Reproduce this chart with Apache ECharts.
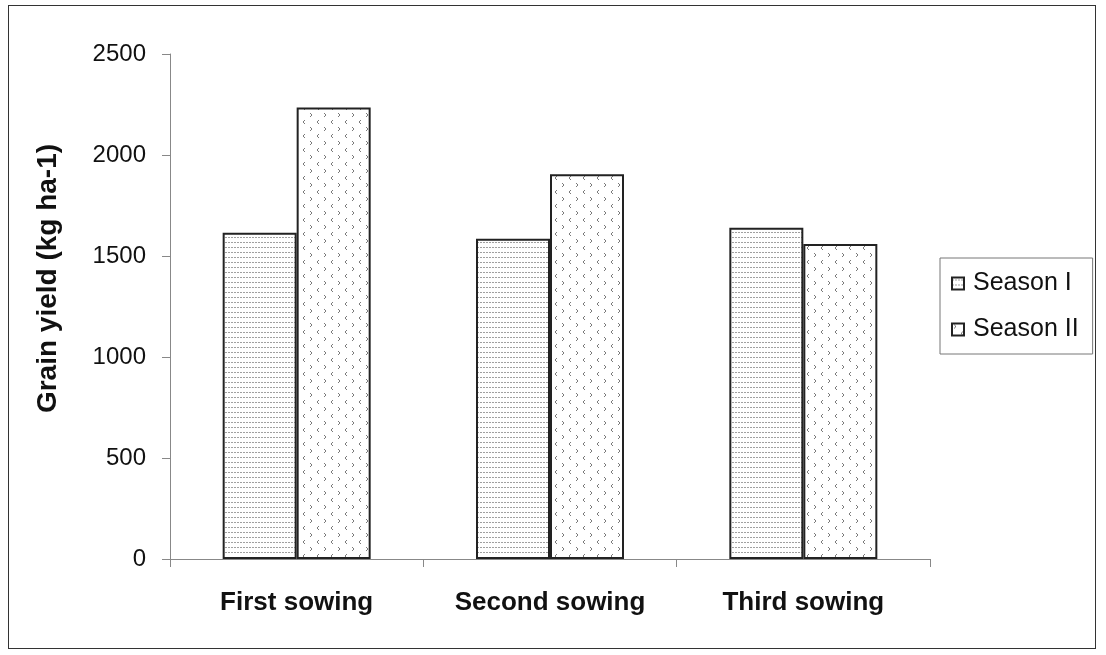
<!DOCTYPE html>
<html>
<head>
<meta charset="utf-8">
<script src="https://cdn.jsdelivr.net/npm/echarts@6/dist/echarts.min.js"></script>
<style>
  html, body { margin: 0; padding: 0; background: #fff; }
  #frame { position: absolute; left: 8px; top: 5px; width: 1088px; height: 644px; border: 1.5px solid #333; box-sizing: border-box; }
  #chart { width: 1106px; height: 655px; }
</style>
</head>
<body>
<div id="frame"></div>
<div id="chart"></div>
<script>
const categories = ['First sowing', 'Second sowing', 'Third sowing']
const seasonI = [1615, 1585, 1640]
const seasonII = [2235, 1905, 1560]
const legendNames = ['Season I', 'Season II']
const yTicks = [0, 500, 1000, 1500, 2000, 2500]

// horizontal dotted lines (Season I)
function linePattern () {
  const c = document.createElement('canvas')
  c.width = 6
  c.height = 5
  const ctx = c.getContext('2d')
  ctx.fillStyle = '#fff'
  ctx.fillRect(0, 0, 6, 5)
  ctx.fillStyle = '#a0a0a0'
  ctx.fillRect(0, 2, 2, 1)
  ctx.fillRect(3, 2, 2, 1)
  return c
}

// small chevrons (Season II)
function chevronPattern () {
  const c = document.createElement('canvas')
  c.width = 14
  c.height = 14
  const ctx = c.getContext('2d')
  ctx.fillStyle = '#fff'
  ctx.fillRect(0, 0, 14, 14)
  ctx.strokeStyle = '#7a7a7a'
  ctx.lineWidth = 1
  ctx.beginPath()
  ctx.moveTo(2, 1); ctx.lineTo(4, 3); ctx.lineTo(2, 5)
  ctx.moveTo(11, 8); ctx.lineTo(9, 10); ctx.lineTo(11, 12)
  ctx.stroke()
  return c
}

const chart = echarts.init(document.getElementById('chart'))
chart.setOption({
  backgroundColor: 'transparent',
  animation: false,
  textStyle: { fontFamily: 'Liberation Sans, Arial, sans-serif' },
  grid: { left: 170, right: 176, top: 54, bottom: 96, containLabel: false },
  legend: {
    orient: 'vertical',
    left: 940,
    top: 258,
    padding: [13, 14, 12, 11],
    itemGap: 21,
    itemWidth: 12,
    itemHeight: 12,
    icon: 'rect',
    borderColor: '#777',
    borderWidth: 1,
    borderRadius: 0,
    data: legendNames,
    textStyle: { fontSize: 25, color: '#111', padding: [0, 0, 0, 4] }
  },
  xAxis: {
    type: 'category',
    data: categories,
    axisLine: { lineStyle: { color: '#888', width: 1 } },
    axisTick: { show: true, length: 8, lineStyle: { color: '#888' } },
    axisLabel: { fontSize: 26, fontWeight: 'bold', color: '#111', margin: 31 }
  },
  yAxis: {
    type: 'value',
    min: yTicks[0],
    max: yTicks[yTicks.length - 1],
    interval: 500,
    name: 'Grain yield (kg ha-1)',
    nameLocation: 'middle',
    nameGap: 108,
    nameTextStyle: { fontSize: 28, fontWeight: 'bold', color: '#111', padding: [0, 0, 0, 56] },
    axisLine: { show: true, lineStyle: { color: '#888', width: 1 } },
    axisTick: { show: true, length: 8, lineStyle: { color: '#888' } },
    axisLabel: { fontSize: 24, color: '#111', margin: 24, formatter: v => String(v) },
    splitLine: { show: false }
  },
  series: [
    {
      name: legendNames[0],
      type: 'bar',
      barWidth: 74,
      barGap: '0%',
      data: seasonI,
      itemStyle: {
        color: { image: linePattern(), repeat: 'repeat' },
        borderColor: '#222',
        borderWidth: 2
      }
    },
    {
      name: legendNames[1],
      type: 'bar',
      barWidth: 74,
      barGap: '0%',
      data: seasonII,
      itemStyle: {
        color: { image: chevronPattern(), repeat: 'repeat' },
        borderColor: '#222',
        borderWidth: 2
      }
    }
  ]
})
</script>
</body>
</html>
